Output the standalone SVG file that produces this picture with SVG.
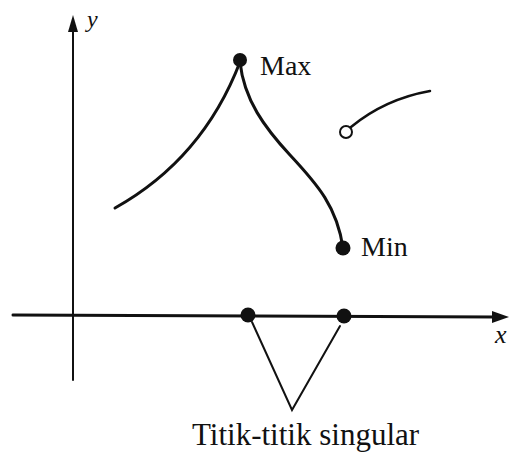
<svg xmlns="http://www.w3.org/2000/svg" width="509" height="454" viewBox="0 0 509 454">
<style>
.ln{fill:none;stroke:#111;stroke-linecap:round}
.dot{fill:#111}
.open{fill:#fff;stroke:#111;stroke-width:2}
.lbl{font-family:"Liberation Serif","Times New Roman",serif;fill:#111}
.it{font-style:italic}
</style>
<rect width="509" height="454" fill="#fff"/>
<g id="axes">
<line class="ln" x1="73" y1="380" x2="73" y2="28" stroke-width="2"/>
<polygon class="dot" points="73,15 68,32 78,32"/>
<line class="ln" x1="13" y1="315" x2="495" y2="317" stroke-width="3"/>
<polygon class="dot" points="509,317 492,311 492,323"/>
<text class="lbl it" x="87" y="27" font-size="24">y</text>
<text class="lbl it" x="495" y="343" font-size="26">x</text>
</g>
<g id="connectors">
<path class="ln" stroke-width="3" d="M115,208 C165,180 212,135 240,62"/>
<path class="ln" stroke-width="3" d="M240,62 C244,100 265,128 290,155 C318,185 337,207 343,248"/>
<path class="ln" stroke-width="2.5" d="M351,127 Q385,99 430,91"/>
<path class="ln" stroke-width="2" d="M252,322 L292,410 L340,326"/>
</g>
<g id="max">
<circle class="dot" cx="240" cy="60" r="7"/>
<text class="lbl" x="260" y="75" font-size="28">Max</text>
</g>
<g id="min">
<circle class="dot" cx="343" cy="248" r="7.5"/>
<text class="lbl" x="361" y="256" font-size="28">Min</text>
</g>
<g id="open-point">
<circle class="open" cx="346" cy="132" r="6"/>
</g>
<g id="singular1">
<circle class="dot" cx="248" cy="315" r="7.5"/>
</g>
<g id="singular2">
<circle class="dot" cx="344" cy="316" r="7.5"/>
</g>
<g id="singular-label">
<text class="lbl" x="192" y="445" font-size="31">Titik-titik singular</text>
</g>
</svg>
